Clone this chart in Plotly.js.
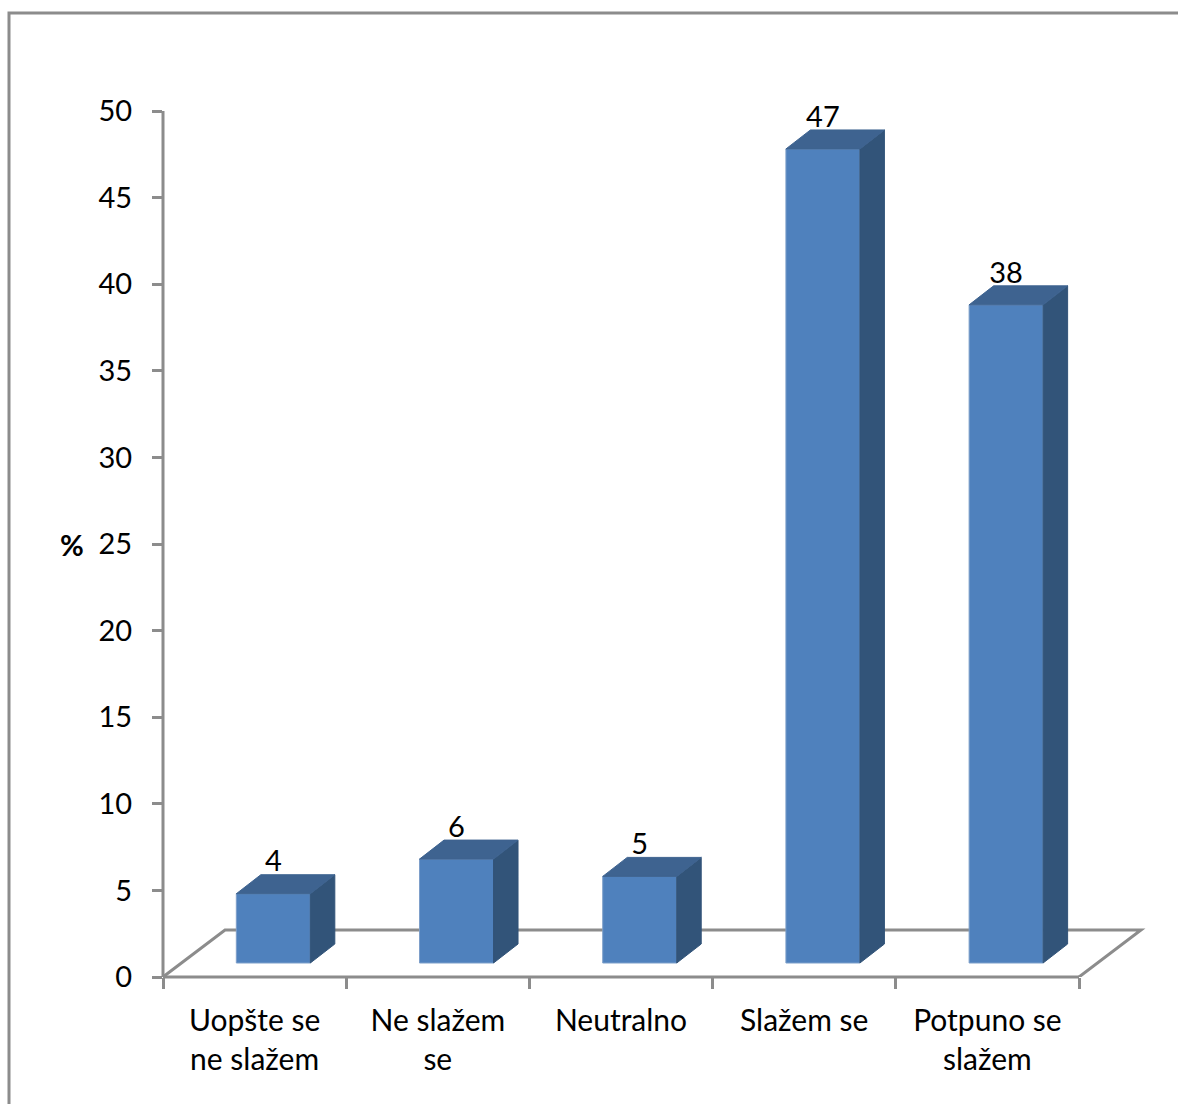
<!DOCTYPE html>
<html>
<head>
<meta charset="utf-8">
<script src="https://cdn.plot.ly/plotly-3.0.1.min.js"></script>
<style>html,body{margin:0;padding:0;background:#fff;overflow:hidden}</style>
</head>
<body>
<div id="chart" style="width:1178px;height:1104px"></div>
<script>
const categories = ["Uopšte se<br>ne slažem", "Ne slažem<br>se", "Neutralno", "Slažem se", "Potpuno se<br>slažem"];
const values = [4, 6, 5, 47, 38];
const valueTicks = [0, 5, 10, 15, 20, 25, 30, 35, 40, 45, 50];

const W = 1178, H = 1104;
const m = {l: 163, r: 20, t: 111, b: 127};
const xUnit = 183.2, yUnit = 17.32;
const plotW = W - m.l - m.r;
const base = 14 / yUnit, barW = 74 / xUnit, barOff = 0.6 + 0.4 / xUnit;
const dx = 24.5 / xUnit, dy = 19 / yUnit;
const floorDx = 62 / xUnit, floorDy = 47 / yUnit;
const grey = "#8c8c8c";
const font = "Lato, Carlito, sans-serif";
const positions = values.map((_, i) => i + barOff);

function faces(kind) {
  const xs = [], ys = [];
  values.forEach((v, i) => {
    const l = positions[i] - barW / 2, r = positions[i] + barW / 2, top = base + v;
    if (kind === "side") {
      xs.push(r, r + dx, r + dx, r, r, null);
      ys.push(base, base + dy, top + dy, top, base, null);
    } else {
      xs.push(l, l + dx, r + dx, r, l, null);
      ys.push(top, top + dy, top + dy, top, top, null);
    }
  });
  return {x: xs, y: ys};
}
const face = (kind, color) => ({
  type: "scatter", mode: "lines", fill: "toself", fillcolor: color,
  line: {color: color, width: 1}, hoverinfo: "skip", showlegend: false,
  ...faces(kind)
});
const px = x => (x - m.l) / plotW;
const py = y => (H - m.b - y) / (H - m.t - m.b);
const frontEnd = 5 * xUnit / plotW;

const data = [
  {type: "bar", x: positions, y: values, base: base, width: barW,
   marker: {color: "#4f81bd", line: {color: "#7d9fca", width: 1}}, showlegend: false},
  face("side", "#325479"),
  face("top", "#3e6390"),
  {type: "scatter", mode: "text", x: positions, y: values.map(v => v + base + 29.5 / yUnit),
   text: values.map(String), textposition: "middle center",
   textfont: {family: font, size: 29, color: "#000"}, showlegend: false, cliponaxis: false}
];

const layout = {
  width: W, height: H, margin: m, paper_bgcolor: "#fff", plot_bgcolor: "#fff",
  showlegend: false, barmode: "overlay",
  xaxis: {
    range: [0, plotW / xUnit], showgrid: false, zeroline: false, showline: false,
    tickmode: "array", tickvals: categories.map((_, i) => i + 0.5), ticktext: categories,
    ticks: "", ticklabelstandoff: 23, tickangle: 0,
    tickfont: {family: font, size: 30, color: "#000"},
    minor: {ticks: "outside", tick0: 0, dtick: 1, ticklen: 11, tickwidth: 3, tickcolor: grey, showgrid: false}
  },
  yaxis: {
    range: [0, 50], showgrid: false, zeroline: false, showline: false,
    tickmode: "array", tickvals: valueTicks, ticks: "outside", ticklen: 10, tickwidth: 3, tickcolor: grey,
    ticklabelstandoff: 14,
    tickfont: {family: font, size: 29, color: "#000"}
  },
  shapes: [
    {type: "path", layer: "below", xref: "x", yref: "y",
     path: `M0,0 L${floorDx},${floorDy} L${5 + floorDx},${floorDy} L5,0`,
     line: {color: grey, width: 3}, fillcolor: "rgba(0,0,0,0)"},
    {type: "line", layer: "below", xref: "paper", yref: "paper", x0: 0, x1: frontEnd, y0: 0, y1: 0,
     line: {color: grey, width: 3}},
    {type: "line", layer: "below", xref: "paper", yref: "paper", x0: 0, x1: 0, y0: 0, y1: 1,
     line: {color: grey, width: 3}},
    {type: "rect", layer: "below", xref: "paper", yref: "paper",
     x0: px(9), y0: py(H + 20), x1: px(W + 20), y1: py(13),
     line: {color: grey, width: 3}, fillcolor: "rgba(0,0,0,0)"}
  ],
  annotations: [
    {text: "<b>%</b>", xref: "paper", yref: "paper", x: px(71.5), y: py(544), xanchor: "center", yanchor: "middle",
     showarrow: false, font: {family: font, size: 29, color: "#000"}}
  ]
};
Plotly.newPlot("chart", data, layout, {displayModeBar: false, staticPlot: true});
</script>
</body>
</html>
